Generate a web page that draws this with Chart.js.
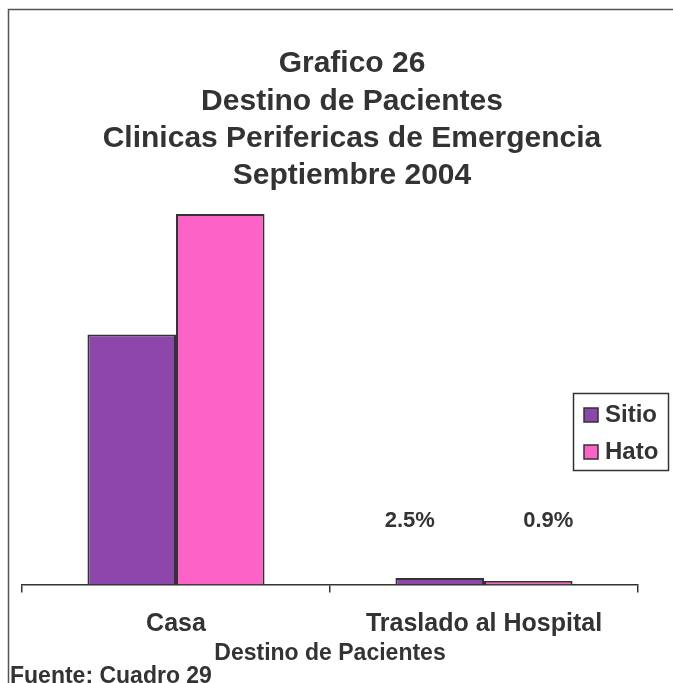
<!DOCTYPE html>
<html>
<head>
<meta charset="utf-8">
<script src="https://cdn.jsdelivr.net/npm/chart.js@4.4.1/dist/chart.umd.min.js"></script>
<style>
  body { margin: 0; background: #fff; }
</style>
</head>
<body>
<canvas id="chart" width="673" height="683"></canvas>
<script>
const categorias = ['Casa', 'Traslado al Hospital'];
const sitio = [1560, 40];
const hato = [2312, 21];
const sitioPct = [null, '2.5%'];
const hatoPct = [null, '0.9%'];
const titulo = ['Grafico 26', 'Destino de Pacientes', 'Clinicas Perifericas de Emergencia', 'Septiembre 2004'];

const tinta = '#333333';
const fuente = '"Liberation Sans", Arial, sans-serif';

// marco, titulo, leyenda, etiquetas y fuente dibujadas a mano
const extras = {
    id: 'extras',
    afterDraw(chart) {
        const c = chart.ctx;
        c.save();
        c.strokeStyle = '#555';
        c.lineWidth = 1.5;
        c.beginPath();
        c.moveTo(8.5, 683);
        c.lineTo(8.5, 9.5);
        c.lineTo(673, 9.5);
        c.stroke();

        c.fillStyle = tinta;
        c.textAlign = 'center';
        c.textBaseline = 'middle';
        c.font = 'bold 30px ' + fuente;
        titulo.forEach((t, i) => c.fillText(t, 352, 64 + i * 37.3));

        // etiquetas de porcentaje
        c.font = 'bold 22px ' + fuente;
        const base = chart.scales.y.getPixelForValue(0);
        [sitioPct, hatoPct].forEach((pcts, d) => {
            const meta = chart.getDatasetMeta(d);
            pcts.forEach((p, i) => {
                if (!p) return;
                const dx = d === 0 ? -30 : 20;
                c.fillText(p, meta.data[i].x + dx, base - 63);
            });
        });

        // leyenda
        c.strokeStyle = tinta;
        c.lineWidth = 1.5;
        c.strokeRect(573.5, 393.5, 95, 77);
        c.font = 'bold 24px ' + fuente;
        c.textAlign = 'left';
        chart.data.datasets.forEach((ds, i) => {
            const y = 415 + i * 37;
            c.fillStyle = ds.backgroundColor;
            c.fillRect(584, y - 7, 14, 14);
            c.strokeStyle = tinta;
            c.lineWidth = 1.5;
            c.strokeRect(584, y - 7, 14, 14);
            c.fillStyle = tinta;
            c.fillText(ds.label, 605, y);
        });

        c.font = 'bold 23px ' + fuente;
        c.fillText('Fuente: Cuadro 29', 10, 677);
        c.restore();
    }
};

new Chart(document.getElementById('chart'), {
    type: 'bar',
    data: {
        labels: categorias,
        datasets: [
            { label: 'Sitio', data: sitio, backgroundColor: '#8c46ac', borderColor: tinta, borderWidth: 2 },
            { label: 'Hato', data: hato, backgroundColor: '#fd62c6', borderColor: tinta, borderWidth: 2 }
        ]
    },
    options: {
        responsive: false,
        animation: false,
        layout: { padding: { top: 200, left: 22, right: 35, bottom: 16 } },
        datasets: { bar: { categoryPercentage: 0.575, barPercentage: 1 } },
        plugins: {
            legend: { display: false },
            tooltip: { enabled: false },
            title: { display: false }
        },
        scales: {
            x: {
                grid: { display: true, drawOnChartArea: false, tickLength: 8, color: tinta, lineWidth: 1.5 },
                border: { display: true, color: tinta, width: 1.5 },
                ticks: { color: tinta, padding: 17, font: { family: fuente, size: 25, weight: 'bold' } },
                title: {
                    display: true,
                    text: 'Destino de Pacientes',
                    color: tinta,
                    padding: { top: -17, bottom: 0 },
                    font: { family: fuente, size: 23, weight: 'bold' }
                }
            },
            y: { display: false, min: 0, max: 2400 }
        }
    },
    plugins: [extras]
});
</script>
</body>
</html>
